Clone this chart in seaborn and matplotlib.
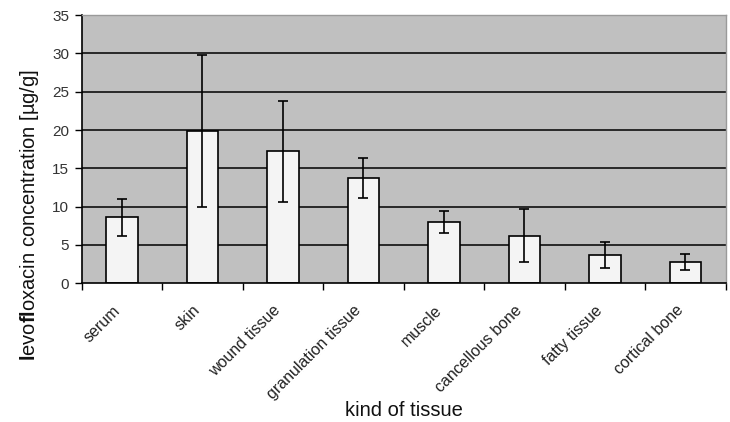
import numpy as np
import pandas as pd
import matplotlib
matplotlib.use("Agg")
import matplotlib.pyplot as plt
import matplotlib.transforms as mtransforms
import seaborn as sns
from matplotlib.ticker import FixedLocator

tissues = ["serum", "skin", "wound tissue", "granulation tissue", "muscle",
           "cancellous bone", "fatty tissue", "cortical bone"]
means = [8.6, 19.9, 17.2, 13.7, 8.0, 6.2, 3.7, 2.75]
errors = [2.4, 9.9, 6.6, 2.6, 1.4, 3.5, 1.7, 1.05]
y_ticks = [0, 5, 10, 15, 20, 25, 30, 35]

sns.set_style("white")
plt.rcParams['font.family'] = ['Liberation Sans', 'DejaVu Sans']
plt.rcParams['mathtext.fontset'] = 'custom'
plt.rcParams['mathtext.rm'] = 'Liberation Sans'
plt.rcParams['mathtext.bf'] = 'Liberation Sans:bold'

df = pd.DataFrame({"tissue": tissues, "mean": means, "err": errors})

fig = plt.figure(figsize=(7.3, 4.22), dpi=100)
ax = fig.add_axes([0.112, 0.329, 0.882, 0.635])
ax.set_facecolor("#c0c0c0")

ax.set_ylim(0, 35)
ax.set_yticks(y_ticks)
for v in y_ticks[1:-1]:
    ax.axhline(v, color="black", lw=1.1, zorder=0.5)

sns.barplot(data=df, x="tissue", y="mean", ax=ax, color="#f4f4f4",
            edgecolor="black", linewidth=1.2, width=0.39, saturation=1,
            errorbar=None, zorder=2)
ax.errorbar(np.arange(len(tissues)), df["mean"], yerr=df["err"], fmt="none",
            ecolor="black", elinewidth=1.2, capsize=3.3, capthick=1.2, zorder=3)

ax.set_xlim(-0.5, len(tissues) - 0.5)
ax.xaxis.set_minor_locator(FixedLocator(np.arange(-0.5, len(tissues), 1.0)))
ax.tick_params(axis="x", which="major", length=0, pad=9)
ax.tick_params(axis="x", which="minor", length=5, width=1, color="black", direction="out", bottom=True)
ax.tick_params(axis="y", length=5, width=1, color="black", direction="out", left=True,
               labelsize=11, labelcolor="#333333", pad=4)
ax.set_xticks(range(len(tissues)))
ax.set_xticklabels(tissues, rotation=45, ha="right", rotation_mode="anchor",
                   fontsize=11.5, color="#222222")
offset = mtransforms.ScaledTranslation(-0.10, -0.07, fig.dpi_scale_trans)
for lbl in ax.get_xticklabels():
    lbl.set_transform(lbl.get_transform() + offset)

for s in ["left", "bottom"]:
    ax.spines[s].set_color("black")
    ax.spines[s].set_linewidth(1.2)
for s in ["top", "right"]:
    ax.spines[s].set_color("#9a9a9a")
    ax.spines[s].set_linewidth(1.0)

ax.set_xlabel("kind of tissue", fontsize=14.5, color="#111111")
ax.xaxis.set_label_coords(0.5, -0.44)
ax.set_ylabel(r"$\mathbf{l}$evo$\mathbf{fl}$oxacin concentration [µg/g]",
              fontsize=14.5, color="#111111")
ax.yaxis.set_label_coords(-0.063, 0.255)

fig.savefig("out.png", dpi=100)
